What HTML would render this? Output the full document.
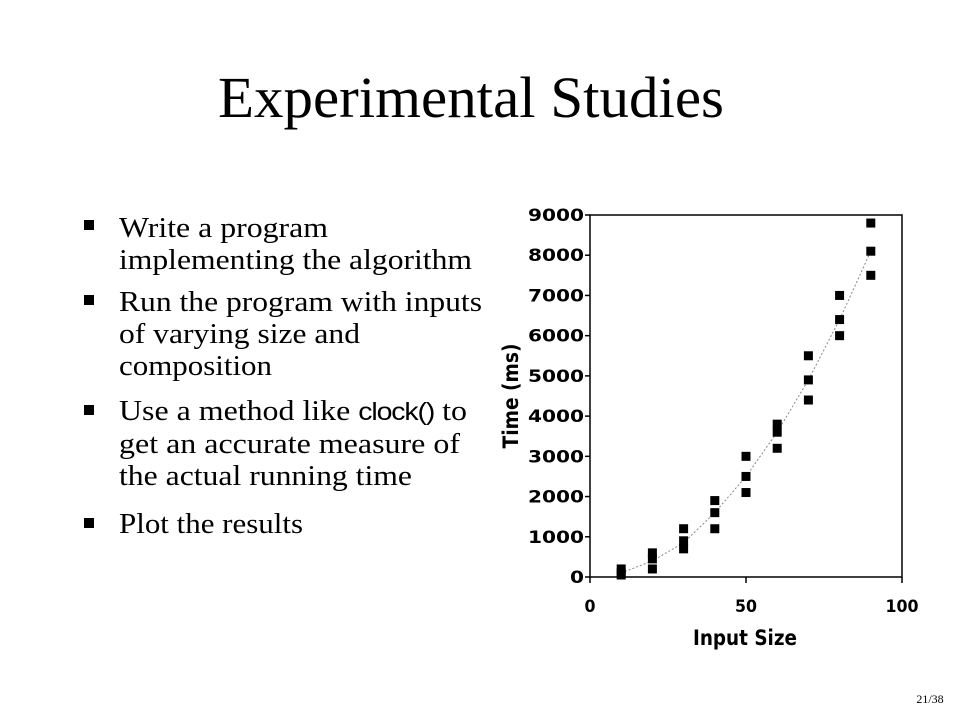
<!DOCTYPE html>
<html><head><meta charset="utf-8"><style>
html,body{margin:0;padding:0;background:#fff;}
svg{display:block;}
</style></head><body>
<svg width="960" height="720" viewBox="0 0 960 720" xmlns="http://www.w3.org/2000/svg">
<text x="471" y="117" font-family="Liberation Serif, serif" font-size="58" text-anchor="middle" textLength="506" lengthAdjust="spacingAndGlyphs">Experimental Studies</text>
<g font-family="Liberation Serif, serif" font-size="28" fill="#000">
  <rect x="84" y="220" width="10" height="10"/>
  <text x="119" y="237" textLength="209" lengthAdjust="spacingAndGlyphs">Write a program</text>
  <text x="119" y="269" textLength="353" lengthAdjust="spacingAndGlyphs">implementing the algorithm</text>
  <rect x="84" y="295" width="10" height="10"/>
  <text x="119" y="311" textLength="363" lengthAdjust="spacingAndGlyphs">Run the program with inputs</text>
  <text x="119" y="343" textLength="241" lengthAdjust="spacingAndGlyphs">of varying size and</text>
  <text x="119" y="375" textLength="153" lengthAdjust="spacingAndGlyphs">composition</text>
  <rect x="84" y="405" width="10" height="10"/>
  <text x="119" y="420" textLength="348" lengthAdjust="spacingAndGlyphs">Use a method like <tspan font-family="Liberation Sans, sans-serif" font-size="25" letter-spacing="-1">clock()</tspan> to</text>
  <text x="119" y="453" textLength="341" lengthAdjust="spacingAndGlyphs">get an accurate measure of</text>
  <text x="119" y="485" textLength="293" lengthAdjust="spacingAndGlyphs">the actual running time</text>
  <rect x="84" y="518" width="10" height="10"/>
  <text x="119" y="533" textLength="184" lengthAdjust="spacingAndGlyphs">Plot the results</text>
</g>
<g id="chart"></g>
<text x="930" y="703" font-family="Liberation Serif, serif" font-size="12" text-anchor="middle">21/38</text>
</svg>
<script>
const xValues = [10,10,10,20,20,20,30,30,30,40,40,40,50,50,50,60,60,60,70,70,70,80,80,80,90,90,90];
const yValues = [200,100,50,600,450,200,1200,900,700,1900,1600,1200,3000,2500,2100,3800,3600,3200,5500,4900,4400,7000,6400,6000,8800,8100,7500];
const trendX = [10,20,30,40,50,60,70,80,90];
const trendY = [100,400,850,1600,2500,3600,4900,6400,8100];
const yTicks = [0,1000,2000,3000,4000,5000,6000,7000,8000,9000];
const xTicks = [0,50,100];
const NS='http://www.w3.org/2000/svg';
const X0=590,X1=902,Y0=577,Y1=215;
const sx=v=>X0+(v-0)/(100-0)*(X1-X0);
const sy=v=>Y0-(v-0)/(9000-0)*(Y0-Y1);
const g=document.getElementById('chart');
function mk(tag,attrs){const e=document.createElementNS(NS,tag);for(const k in attrs)e.setAttribute(k,attrs[k]);g.appendChild(e);return e;}
let e;
e=mk('rect',{x:X0,y:Y1,width:X1-X0,height:Y0-Y1,fill:'none',stroke:'#000','stroke-width':1.5});


yTicks.forEach(t=>{
  const l=mk('line',{x1:X0-5,x2:X0,y1:sy(t),y2:sy(t),stroke:'#000','stroke-width':1.5});
  
  
  const s=String(t);
  const tx=mk('text',{x:X0-6,y:sy(t)+6,'text-anchor':'end','font-family':'DejaVu Sans, sans-serif','font-weight':'bold','font-size':17,textLength:s.length*14,lengthAdjust:'spacingAndGlyphs'});
  tx.textContent=s;
  
  
});
xTicks.forEach(t=>{
  const l=mk('line',{x1:sx(t),x2:sx(t),y1:Y0,y2:Y0+6,stroke:'#000','stroke-width':1.5});
  
  
  const s=String(t);
  const tx=mk('text',{x:sx(t),y:Y0+35,'text-anchor':'middle','font-family':'DejaVu Sans, sans-serif','font-weight':'bold','font-size':17,textLength:s.length*11,lengthAdjust:'spacingAndGlyphs'});
  tx.textContent=s;
  
  
});
const tp=mk('polyline',{points:trendX.map((x,i)=>sx(x)+','+sy(trendY[i])).join(' '),fill:'none',stroke:'#888','stroke-width':1,'stroke-dasharray':'2,2'});


xValues.forEach((x,i)=>{
  const r=mk('rect',{x:sx(x)-4.5,y:sy(yValues[i])-4.5,width:9,height:9,fill:'#000'});
  
  
});
const yt=mk('text',{x:0,y:0,transform:'translate(518,396) rotate(-90)','text-anchor':'middle','font-family':'DejaVu Sans, sans-serif','font-weight':'bold','font-size':21,textLength:105,lengthAdjust:'spacingAndGlyphs'});
yt.textContent='Time (ms)';


const xt=mk('text',{x:745,y:645,'text-anchor':'middle','font-family':'DejaVu Sans, sans-serif','font-weight':'bold','font-size':21,textLength:104,lengthAdjust:'spacingAndGlyphs'});
xt.textContent='Input Size';


</script>
</body></html>
